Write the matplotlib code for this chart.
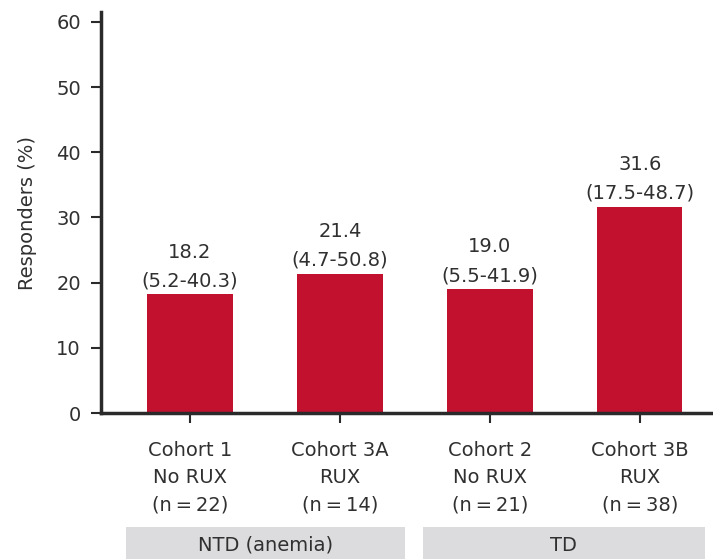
import matplotlib.pyplot as plt
from matplotlib import font_manager
from matplotlib.patches import Rectangle
import matplotlib.transforms as mtransforms

# data
cohorts = ['Cohort 1', 'Cohort 3A', 'Cohort 2', 'Cohort 3B']
treatment = ['No RUX', 'RUX', 'No RUX', 'RUX']
n_patients = [22, 14, 21, 38]
responders = [18.2, 21.4, 19.0, 31.6]
ci_low = [5.2, 4.7, 5.5, 17.5]
ci_high = [40.3, 50.8, 41.9, 48.7]
groups = ['NTD (anemia)', 'TD']

bar_color = '#C1112F'
text_color = '#303030'
box_color = '#DCDCDE'

plt.rcParams['font.family'] = ['DejaVu Sans']
plt.rcParams['font.size'] = 14

# narrow font for the y label if one is installed
installed = {f.name for f in font_manager.fontManager.ttflist}
if 'Liberation Sans Narrow' in installed:
    ylab_font, ylab_size = 'Liberation Sans Narrow', 17
elif 'DejaVu Sans Condensed' in installed:
    ylab_font, ylab_size = 'DejaVu Sans Condensed', 15
else:
    ylab_font, ylab_size = 'DejaVu Sans', 14

fig = plt.figure(figsize=(7.13, 5.59), dpi=100)
ax = fig.add_axes([0.1417, 0.261, 0.858, 0.7174])

x = list(range(len(cohorts)))
ax.bar(x, responders, width=0.57, color=bar_color)

for i in x:
    ax.annotate('%.1f\n(%.1f-%.1f)' % (responders[i], ci_low[i], ci_high[i]),
                xy=(i, responders[i]), xytext=(0, 3), textcoords='offset points',
                ha='center', va='bottom', linespacing=1.65, color=text_color)

ax.set_xlim(-0.593, 3.487)
ax.set_ylim(0, 61.5)
ax.set_yticks(range(0, 61, 10))
ax.set_xticks(x)
ax.set_xticklabels(['%s\n%s\n(n\u2009=\u2009%d)' % (c, t, n) for c, t, n in zip(cohorts, treatment, n_patients)],
                   linespacing=1.57)

for side in ['top', 'right']:
    ax.spines[side].set_visible(False)
for side in ['left', 'bottom']:
    ax.spines[side].set_linewidth(2.5)
    ax.spines[side].set_color('#2a2a2a')
ax.tick_params(axis='both', length=7.5, width=1.5, color='#2a2a2a', labelcolor=text_color)
ax.tick_params(axis='x', pad=12.5)
ax.tick_params(axis='y', pad=7)

ax.set_ylabel('Responders (%)', family=ylab_font, fontsize=ylab_size,
              color=text_color, labelpad=14)

# group boxes under the category labels
trans = mtransforms.blended_transform_factory(ax.transData, fig.transFigure)
box_spans = [(-0.427, 1.433), (1.553, 3.433)]
for name, (x0, x1) in zip(groups, box_spans):
    ax.add_patch(Rectangle((x0, 0), x1 - x0, 0.057, transform=trans,
                           facecolor=box_color, edgecolor='none', clip_on=False))
    ax.text((x0 + x1) / 2, 0.025, name, transform=trans, ha='center', va='center',
            color=text_color, clip_on=False)

fig.savefig('out.png', dpi=100)
